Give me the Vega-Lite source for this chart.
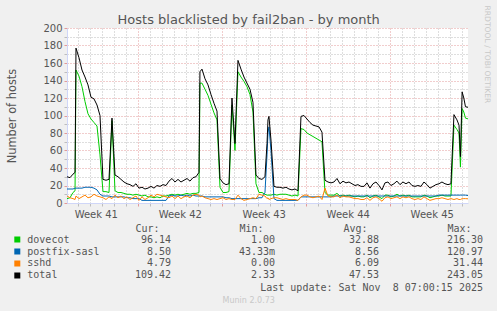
{
  "$schema": "https://vega.github.io/schema/vega-lite/v6.json",
  "background": "#f0f0f0",
  "padding": {"left": 6, "top": 5, "right": 6, "bottom": 6},
  "spacing": 4,
  "title": {"text": "Munin 2.0.73", "orient": "bottom", "anchor": "middle", "frame": "bounds", "font": "DejaVu Sans", "fontSize": 8, "fontWeight": "normal", "color": "#c8c8c8", "offset": 4},
  "config": {
    "view": {"stroke": null},
    "axis": {"labelFont": "DejaVu Sans", "titleFont": "DejaVu Sans", "labelColor": "#555555", "titleColor": "#555555", "titleFontWeight": "normal"}
  },
  "datasets": {
    "hosts": [
      {"d": -0.9, "dovecot": 5, "postfix-sasl": 16, "sshd": 8, "total": 30},
      {"d": -0.65, "dovecot": 6, "postfix-sasl": 16, "sshd": 6, "total": 29},
      {"d": -0.4, "dovecot": 12, "postfix-sasl": 16, "sshd": 5, "total": 33},
      {"d": -0.23, "dovecot": 14, "postfix-sasl": 17, "sshd": 4, "total": 35},
      {"d": -0.15, "dovecot": 152, "postfix-sasl": 17, "sshd": 8, "total": 177},
      {"d": 0.1, "dovecot": 145, "postfix-sasl": 17, "sshd": 5, "total": 166},
      {"d": 0.35, "dovecot": 133, "postfix-sasl": 17, "sshd": 7, "total": 152},
      {"d": 0.6, "dovecot": 116, "postfix-sasl": 18, "sshd": 9, "total": 144},
      {"d": 0.85, "dovecot": 102, "postfix-sasl": 18, "sshd": 6, "total": 135},
      {"d": 1.1, "dovecot": 96, "postfix-sasl": 18, "sshd": 7, "total": 121},
      {"d": 1.35, "dovecot": 92, "postfix-sasl": 17, "sshd": 10, "total": 119},
      {"d": 1.6, "dovecot": 88, "postfix-sasl": 15, "sshd": 8, "total": 112},
      {"d": 1.85, "dovecot": 55, "postfix-sasl": 10, "sshd": 7, "total": 100},
      {"d": 2.1, "dovecot": 13, "postfix-sasl": 8, "sshd": 6, "total": 27},
      {"d": 2.35, "dovecot": 13, "postfix-sasl": 8, "sshd": 4, "total": 26},
      {"d": 2.6, "dovecot": 12, "postfix-sasl": 8, "sshd": 7, "total": 27},
      {"d": 2.85, "dovecot": 94, "postfix-sasl": 7, "sshd": 5, "total": 97},
      {"d": 3.1, "dovecot": 14, "postfix-sasl": 7, "sshd": 9, "total": 32},
      {"d": 3.35, "dovecot": 12, "postfix-sasl": 7, "sshd": 6, "total": 30},
      {"d": 3.6, "dovecot": 12, "postfix-sasl": 7, "sshd": 8, "total": 27},
      {"d": 3.85, "dovecot": 11, "postfix-sasl": 7, "sshd": 5, "total": 24},
      {"d": 4.1, "dovecot": 10, "postfix-sasl": 6, "sshd": 7, "total": 22},
      {"d": 4.35, "dovecot": 10, "postfix-sasl": 6, "sshd": 4, "total": 21},
      {"d": 4.6, "dovecot": 9, "postfix-sasl": 5, "sshd": 6, "total": 19},
      {"d": 4.85, "dovecot": 10, "postfix-sasl": 5, "sshd": 8, "total": 22},
      {"d": 5.1, "dovecot": 9, "postfix-sasl": 5, "sshd": 3, "total": 17},
      {"d": 5.35, "dovecot": 8, "postfix-sasl": 3, "sshd": 7, "total": 18},
      {"d": 5.6, "dovecot": 9, "postfix-sasl": 3, "sshd": 4, "total": 16},
      {"d": 5.85, "dovecot": 7, "postfix-sasl": 3, "sshd": 6, "total": 17},
      {"d": 6.1, "dovecot": 7, "postfix-sasl": 3, "sshd": 9, "total": 19},
      {"d": 6.35, "dovecot": 6, "postfix-sasl": 3, "sshd": 7, "total": 17},
      {"d": 6.6, "dovecot": 7, "postfix-sasl": 3, "sshd": 10, "total": 20},
      {"d": 6.85, "dovecot": 6, "postfix-sasl": 3, "sshd": 9, "total": 19},
      {"d": 7.1, "dovecot": 8, "postfix-sasl": 3, "sshd": 8, "total": 21},
      {"d": 7.35, "dovecot": 8, "postfix-sasl": 3, "sshd": 7, "total": 20},
      {"d": 7.6, "dovecot": 9, "postfix-sasl": 8, "sshd": 6, "total": 25},
      {"d": 7.85, "dovecot": 10, "postfix-sasl": 9, "sshd": 8, "total": 28},
      {"d": 8.1, "dovecot": 9, "postfix-sasl": 8, "sshd": 5, "total": 24},
      {"d": 8.35, "dovecot": 10, "postfix-sasl": 8, "sshd": 8, "total": 27},
      {"d": 8.6, "dovecot": 9, "postfix-sasl": 9, "sshd": 5, "total": 24},
      {"d": 8.85, "dovecot": 10, "postfix-sasl": 8, "sshd": 7, "total": 26},
      {"d": 9.1, "dovecot": 11, "postfix-sasl": 9, "sshd": 8, "total": 28},
      {"d": 9.35, "dovecot": 10, "postfix-sasl": 8, "sshd": 6, "total": 25},
      {"d": 9.6, "dovecot": 11, "postfix-sasl": 9, "sshd": 9, "total": 29},
      {"d": 9.85, "dovecot": 11, "postfix-sasl": 8, "sshd": 10, "total": 30},
      {"d": 10.1, "dovecot": 12, "postfix-sasl": 8, "sshd": 9, "total": 35},
      {"d": 10.18, "dovecot": 137, "postfix-sasl": 8, "sshd": 7, "total": 150},
      {"d": 10.35, "dovecot": 137, "postfix-sasl": 8, "sshd": 8, "total": 153},
      {"d": 10.6, "dovecot": 130, "postfix-sasl": 7, "sshd": 6, "total": 142},
      {"d": 10.85, "dovecot": 123, "postfix-sasl": 7, "sshd": 5, "total": 135},
      {"d": 11.1, "dovecot": 113, "postfix-sasl": 7, "sshd": 4, "total": 124},
      {"d": 11.35, "dovecot": 103, "postfix-sasl": 7, "sshd": 5, "total": 114},
      {"d": 11.6, "dovecot": 95, "postfix-sasl": 7, "sshd": 4, "total": 105},
      {"d": 11.85, "dovecot": 18, "postfix-sasl": 7, "sshd": 5, "total": 28},
      {"d": 12.1, "dovecot": 12, "postfix-sasl": 7, "sshd": 6, "total": 23},
      {"d": 12.35, "dovecot": 12, "postfix-sasl": 6, "sshd": 4, "total": 21},
      {"d": 12.6, "dovecot": 13, "postfix-sasl": 6, "sshd": 5, "total": 22},
      {"d": 12.85, "dovecot": 112, "postfix-sasl": 5, "sshd": 4, "total": 120},
      {"d": 13.1, "dovecot": 60, "postfix-sasl": 5, "sshd": 4, "total": 68},
      {"d": 13.35, "dovecot": 150, "postfix-sasl": 5, "sshd": 9, "total": 163},
      {"d": 13.6, "dovecot": 144, "postfix-sasl": 5, "sshd": 5, "total": 153},
      {"d": 13.85, "dovecot": 139, "postfix-sasl": 5, "sshd": 3, "total": 144},
      {"d": 14.1, "dovecot": 133, "postfix-sasl": 5, "sshd": 4, "total": 137},
      {"d": 14.35, "dovecot": 124, "postfix-sasl": 5, "sshd": 5, "total": 130},
      {"d": 14.6, "dovecot": 104, "postfix-sasl": 5, "sshd": 6, "total": 115},
      {"d": 14.85, "dovecot": 22, "postfix-sasl": 5, "sshd": 5, "total": 32},
      {"d": 15.1, "dovecot": 12, "postfix-sasl": 6, "sshd": 10, "total": 28},
      {"d": 15.35, "dovecot": 12, "postfix-sasl": 6, "sshd": 9, "total": 27},
      {"d": 15.6, "dovecot": 10, "postfix-sasl": 12, "sshd": 8, "total": 30},
      {"d": 15.77, "dovecot": 9, "postfix-sasl": 55, "sshd": 5, "total": 68},
      {"d": 15.85, "dovecot": 9, "postfix-sasl": 80, "sshd": 6, "total": 95},
      {"d": 15.93, "dovecot": 9, "postfix-sasl": 87, "sshd": 4, "total": 99},
      {"d": 16.1, "dovecot": 9, "postfix-sasl": 60, "sshd": 5, "total": 72},
      {"d": 16.35, "dovecot": 10, "postfix-sasl": 5, "sshd": 6, "total": 19},
      {"d": 16.6, "dovecot": 9, "postfix-sasl": 3, "sshd": 6, "total": 18},
      {"d": 16.85, "dovecot": 10, "postfix-sasl": 3, "sshd": 5, "total": 18},
      {"d": 17.1, "dovecot": 10, "postfix-sasl": 3, "sshd": 4, "total": 17},
      {"d": 17.35, "dovecot": 10, "postfix-sasl": 3, "sshd": 5, "total": 18},
      {"d": 17.6, "dovecot": 9, "postfix-sasl": 3, "sshd": 4, "total": 16},
      {"d": 17.85, "dovecot": 8, "postfix-sasl": 3, "sshd": 4, "total": 15},
      {"d": 18.1, "dovecot": 9, "postfix-sasl": 3, "sshd": 4, "total": 16},
      {"d": 18.35, "dovecot": 8, "postfix-sasl": 3, "sshd": 3, "total": 14},
      {"d": 18.6, "dovecot": 85, "postfix-sasl": 7, "sshd": 7, "total": 99},
      {"d": 18.85, "dovecot": 84, "postfix-sasl": 7, "sshd": 9, "total": 100},
      {"d": 19.1, "dovecot": 80, "postfix-sasl": 7, "sshd": 9, "total": 96},
      {"d": 19.35, "dovecot": 78, "postfix-sasl": 7, "sshd": 7, "total": 92},
      {"d": 19.6, "dovecot": 76, "postfix-sasl": 7, "sshd": 6, "total": 89},
      {"d": 19.85, "dovecot": 74, "postfix-sasl": 7, "sshd": 7, "total": 88},
      {"d": 20.1, "dovecot": 72, "postfix-sasl": 7, "sshd": 8, "total": 87},
      {"d": 20.35, "dovecot": 70, "postfix-sasl": 7, "sshd": 4, "total": 81},
      {"d": 20.6, "dovecot": 12, "postfix-sasl": 7, "sshd": 17, "total": 26},
      {"d": 20.85, "dovecot": 9, "postfix-sasl": 7, "sshd": 8, "total": 24},
      {"d": 21.1, "dovecot": 9, "postfix-sasl": 7, "sshd": 7, "total": 23},
      {"d": 21.35, "dovecot": 9, "postfix-sasl": 8, "sshd": 7, "total": 24},
      {"d": 21.6, "dovecot": 11, "postfix-sasl": 8, "sshd": 9, "total": 28},
      {"d": 21.85, "dovecot": 8, "postfix-sasl": 8, "sshd": 6, "total": 22},
      {"d": 22.1, "dovecot": 9, "postfix-sasl": 8, "sshd": 8, "total": 25},
      {"d": 22.35, "dovecot": 8, "postfix-sasl": 8, "sshd": 7, "total": 23},
      {"d": 22.6, "dovecot": 9, "postfix-sasl": 8, "sshd": 7, "total": 24},
      {"d": 22.85, "dovecot": 8, "postfix-sasl": 8, "sshd": 6, "total": 22},
      {"d": 23.1, "dovecot": 7, "postfix-sasl": 8, "sshd": 5, "total": 20},
      {"d": 23.35, "dovecot": 8, "postfix-sasl": 8, "sshd": 5, "total": 21},
      {"d": 23.6, "dovecot": 7, "postfix-sasl": 8, "sshd": 4, "total": 19},
      {"d": 23.85, "dovecot": 7, "postfix-sasl": 8, "sshd": 4, "total": 19},
      {"d": 24.1, "dovecot": 9, "postfix-sasl": 8, "sshd": 6, "total": 23},
      {"d": 24.35, "dovecot": 6, "postfix-sasl": 8, "sshd": 3, "total": 17},
      {"d": 24.6, "dovecot": 8, "postfix-sasl": 8, "sshd": 6, "total": 22},
      {"d": 24.85, "dovecot": 9, "postfix-sasl": 8, "sshd": 7, "total": 24},
      {"d": 25.1, "dovecot": 7, "postfix-sasl": 8, "sshd": 5, "total": 20},
      {"d": 25.35, "dovecot": 5, "postfix-sasl": 8, "sshd": 2, "total": 15},
      {"d": 25.6, "dovecot": 9, "postfix-sasl": 8, "sshd": 6, "total": 23},
      {"d": 25.85, "dovecot": 9, "postfix-sasl": 8, "sshd": 7, "total": 24},
      {"d": 26.1, "dovecot": 7, "postfix-sasl": 8, "sshd": 5, "total": 20},
      {"d": 26.35, "dovecot": 8, "postfix-sasl": 8, "sshd": 6, "total": 22},
      {"d": 26.6, "dovecot": 10, "postfix-sasl": 8, "sshd": 7, "total": 25},
      {"d": 26.85, "dovecot": 8, "postfix-sasl": 8, "sshd": 5, "total": 21},
      {"d": 27.1, "dovecot": 9, "postfix-sasl": 8, "sshd": 7, "total": 24},
      {"d": 27.35, "dovecot": 8, "postfix-sasl": 8, "sshd": 6, "total": 22},
      {"d": 27.6, "dovecot": 9, "postfix-sasl": 8, "sshd": 7, "total": 24},
      {"d": 27.85, "dovecot": 7, "postfix-sasl": 8, "sshd": 5, "total": 20},
      {"d": 28.1, "dovecot": 7, "postfix-sasl": 8, "sshd": 4, "total": 19},
      {"d": 28.35, "dovecot": 7, "postfix-sasl": 8, "sshd": 5, "total": 20},
      {"d": 28.6, "dovecot": 7, "postfix-sasl": 8, "sshd": 4, "total": 19},
      {"d": 28.85, "dovecot": 9, "postfix-sasl": 8, "sshd": 7, "total": 24},
      {"d": 29.1, "dovecot": 8, "postfix-sasl": 8, "sshd": 5, "total": 21},
      {"d": 29.35, "dovecot": 6, "postfix-sasl": 8, "sshd": 3, "total": 17},
      {"d": 29.6, "dovecot": 7, "postfix-sasl": 8, "sshd": 4, "total": 19},
      {"d": 29.85, "dovecot": 8, "postfix-sasl": 8, "sshd": 5, "total": 21},
      {"d": 30.1, "dovecot": 8, "postfix-sasl": 9, "sshd": 5, "total": 22},
      {"d": 30.35, "dovecot": 9, "postfix-sasl": 9, "sshd": 6, "total": 24},
      {"d": 30.6, "dovecot": 8, "postfix-sasl": 9, "sshd": 5, "total": 22},
      {"d": 30.85, "dovecot": 8, "postfix-sasl": 9, "sshd": 4, "total": 21},
      {"d": 31.1, "dovecot": 8, "postfix-sasl": 9, "sshd": 5, "total": 22},
      {"d": 31.35, "dovecot": 89, "postfix-sasl": 9, "sshd": 4, "total": 101},
      {"d": 31.6, "dovecot": 84, "postfix-sasl": 9, "sshd": 5, "total": 95},
      {"d": 31.77, "dovecot": 80, "postfix-sasl": 9, "sshd": 4, "total": 89},
      {"d": 31.89, "dovecot": 41, "postfix-sasl": 9, "sshd": 4, "total": 53},
      {"d": 32.03, "dovecot": 108, "postfix-sasl": 9, "sshd": 5, "total": 127},
      {"d": 32.17, "dovecot": 104, "postfix-sasl": 9, "sshd": 5, "total": 120},
      {"d": 32.31, "dovecot": 97, "postfix-sasl": 9, "sshd": 5, "total": 110},
      {"d": 32.52, "dovecot": 96.14, "postfix-sasl": 8.5, "sshd": 4.79, "total": 109.42}
    ],
    "legend": [
      {"series": "dovecot", "Cur": "96.14\u00a0", "Min": "1.00\u00a0", "Avg": "32.88\u00a0", "Max": "216.30\u00a0"},
      {"series": "postfix-sasl", "Cur": "8.50\u00a0", "Min": "43.33m", "Avg": "8.56\u00a0", "Max": "120.97\u00a0"},
      {"series": "sshd", "Cur": "4.79\u00a0", "Min": "0.00\u00a0", "Avg": "6.09\u00a0", "Max": "31.44\u00a0"},
      {"series": "total", "Cur": "109.42\u00a0", "Min": "2.33\u00a0", "Avg": "47.53\u00a0", "Max": "243.05\u00a0"}
    ]
  },
  "vconcat": [
    {
      "width": 401,
      "height": 175,
      "view": {"fill": "#ffffff", "stroke": null},
      "title": {"text": "Hosts blacklisted by fail2ban - by month", "frame": "bounds", "anchor": "middle", "font": "DejaVu Sans", "fontSize": 13, "fontWeight": "normal", "color": "#555555", "baseline": "alphabetic", "offset": -32},
      "data": {"name": "hosts"},
      "layer": [
        {
          "transform": [{"fold": ["dovecot", "postfix-sasl", "sshd", "total"], "as": ["series", "hosts"]}],
          "mark": {"type": "line", "strokeWidth": 1},
          "encoding": {
            "x": {
              "field": "d", "type": "quantitative",
              "scale": {"domain": [-0.9, 32.52], "nice": false, "zero": false},
              "axis": {
                "title": null,
                "values": [0, 1, 1.5, 2, 3, 4, 5, 6, 7, 8, 8.5, 9, 10, 11, 12, 13, 14, 15, 15.5, 16, 17, 18, 19, 20, 21, 22, 22.5, 23, 24, 25, 26, 27, 28, 29, 29.5, 30, 31, 32],
                "labelExpr": "datum.value % 7 == 1.5 ? 'Week ' + (41 + floor(datum.value / 7)) : ''",
                "labelOverlap": false, "labelFlush": false, "labelFontSize": 10, "labelPadding": 3,
                "grid": true, "gridDash": [1, 2],
                "gridColor": {"condition": {"test": "datum.value % 7 == 5", "value": "#e29a9a"}, "value": "#bdbdbd"},
                "gridOpacity": {"condition": {"test": "datum.value % 1 != 0", "value": 0}, "value": 1},
                "tickSize": 3,
                "tickColor": {"condition": {"test": "datum.value % 7 == 5", "value": "#e29a9a"}, "value": "#bdbdbd"},
                "tickOpacity": {"condition": {"test": "datum.value % 1 != 0", "value": 0}, "value": 1},
                "domainColor": "#cfd6f8"
              }
            },
            "y": {
              "field": "hosts", "type": "quantitative",
              "scale": {"domain": [0, 200], "nice": false},
              "axis": {
                "title": "Number of hosts", "titleFontSize": 11.4, "titlePadding": 25,
                "values": [0, 10, 20, 30, 40, 50, 60, 70, 80, 90, 100, 110, 120, 130, 140, 150, 160, 170, 180, 190, 200],
                "labelExpr": "datum.value % 20 == 0 ? datum.label : ''",
                "labelFontSize": 10, "labelPadding": 2,
                "grid": true, "gridDash": [1, 2],
                "gridColor": {"condition": {"test": "datum.value % 20 == 0", "value": "#e29a9a"}, "value": "#bdbdbd"},
                "gridOpacity": {"condition": {"test": "datum.value == 0", "value": 0}, "value": 1},
                "tickSize": 3,
                "tickColor": {"condition": {"test": "datum.value % 20 == 0", "value": "#e29a9a"}, "value": "#bdbdbd"},
                "domainColor": "#cfd6f8"
              }
            },
            "color": {
              "field": "series", "type": "nominal",
              "scale": {"domain": ["dovecot", "postfix-sasl", "sshd", "total"], "range": ["#00cc00", "#0066b3", "#ff8000", "#000000"]},
              "legend": null
            }
          }
        },
        {
          "data": {"values": [{"v": 0}]},
          "mark": {"type": "rule", "strokeOpacity": 0},
          "encoding": {
            "y": {
              "field": "v", "type": "quantitative",
              "axis": {
                "orient": "right", "title": "RRDTOOL / TOBI OETIKER",
                "labels": false, "ticks": false, "domain": false, "grid": false,
                "titleFont": "DejaVu Sans", "titleFontSize": 7.6, "titleColor": "#c8c8c8",
                "titleAngle": 90, "titleAlign": "left", "titleBaseline": "middle",
                "titleX": 18.5, "titleY": -23
              }
            }
          }
        }
      ],
      "resolve": {"axis": {"y": "independent"}}
    },
    {
      "width": 416,
      "height": 47,
      "data": {"name": "legend"},
      "title": {"text": "Last update: Sat Nov\u00a0 8 07:00:15 2025", "orient": "bottom", "anchor": "end", "frame": "group", "font": "DejaVu Sans Mono", "fontSize": 10, "fontWeight": "normal", "color": "#555555", "offset": 2},
      "transform": [{"fold": ["Cur", "Min", "Avg", "Max"], "as": ["stat", "value"]}],
      "mark": {"type": "text", "align": "right", "baseline": "middle", "font": "DejaVu Sans Mono", "fontSize": 10, "color": "#555555"},
      "encoding": {
        "x": {
          "field": "stat", "type": "nominal",
          "scale": {"type": "point", "domain": ["Cur", "Min", "Avg", "Max"], "paddingOuter": 0.698, "align": 1},
          "axis": {
            "orient": "top", "title": null, "labelExpr": "datum.label + ':'",
            "labelAlign": "right", "labelOffset": -12, "labelAngle": 0,
            "ticks": false, "tickSize": 0, "domain": false, "grid": false,
            "labelFont": "DejaVu Sans Mono", "labelFontSize": 10, "labelPadding": 1
          }
        },
        "y": {
          "field": "series", "type": "nominal",
          "scale": {"type": "band", "domain": ["dovecot", "postfix-sasl", "sshd", "total"], "paddingInner": 0, "paddingOuter": 0},
          "axis": {
            "orient": "left", "title": null, "offset": 47.2,
            "domain": false, "grid": false,
            "tickSize": 6, "tickWidth": 6,
            "tickColor": {"condition": [
              {"test": "datum.value == 'dovecot'", "value": "#00cc00"},
              {"test": "datum.value == 'postfix-sasl'", "value": "#0066b3"},
              {"test": "datum.value == 'sshd'", "value": "#ff8000"}
            ], "value": "#000000"},
            "labelAlign": "left", "labelPadding": -13,
            "labelFont": "DejaVu Sans Mono", "labelFontSize": 10
          }
        },
        "text": {"field": "value", "type": "nominal"}
      }
    }
  ]
}
